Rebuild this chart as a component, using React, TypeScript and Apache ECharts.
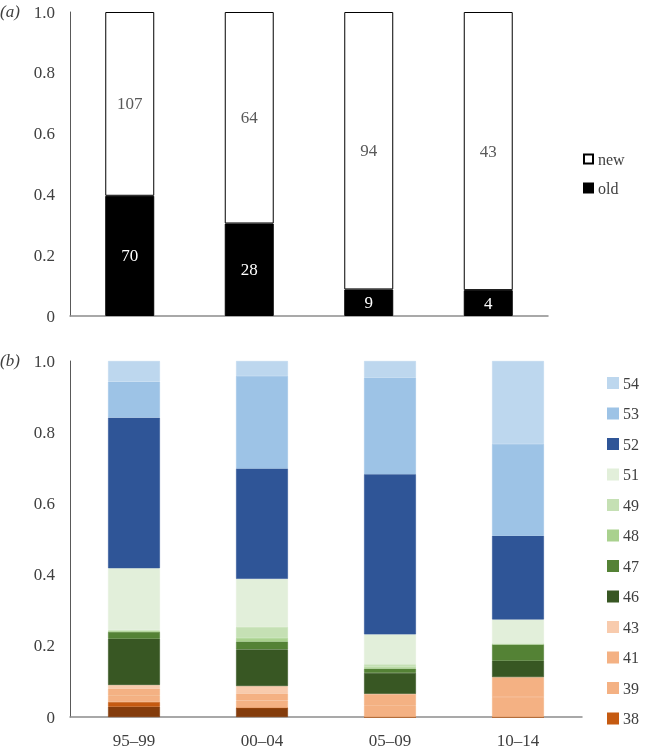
import React, { useEffect, useRef } from "react";
import * as echarts from "echarts";

const periods = ["95–99", "00–04", "05–09", "10–14"];
const yTicks = [0, 0.2, 0.4, 0.6, 0.8, 1.0];

// panel (a) counts
const oldCounts = [70, 28, 9, 4];
const newCounts = [107, 64, 94, 43];

// panel (b) proportions, bottom to top of stack
const s37 = [0.029, 0.026, 0, 0];
const s38 = [0.013, 0, 0, 0];
const s39 = [0.019, 0.02, 0.033, 0.056];
const s41 = [0.019, 0.02, 0.032, 0.056];
const s43 = [0.01, 0.021, 0, 0];
const s46 = [0.13, 0.103, 0.059, 0.046];
const s47 = [0.019, 0.022, 0.012, 0.047];
const s48 = [0.003, 0.01, 0.004, 0];
const s49 = [0.002, 0.031, 0.008, 0];
const s51 = [0.174, 0.135, 0.084, 0.069];
const s52 = [0.423, 0.31, 0.45, 0.235];
const s53 = [0.101, 0.26, 0.271, 0.258];
const s54 = [0.058, 0.042, 0.047, 0.233];

const bNames = ["37", "38", "39", "41", "43", "46", "47", "48", "49", "51", "52", "53", "54"];
const bData = [s37, s38, s39, s41, s43, s46, s47, s48, s49, s51, s52, s53, s54];
const bColors = [
  "#843C0C", "#C55A11", "#F4B183", "#F4B183", "#F8CBAD", "#385723", "#548235",
  "#A9D18E", "#C5E0B4", "#E2EFDA", "#2F5597", "#9DC3E6", "#BDD7EE",
];
const bLegend = ["54", "53", "52", "51", "49", "48", "47", "46", "43", "41", "39", "38"];

const FONT = "'Liberation Serif', 'Times New Roman', serif";
const TXT = "#404040";

export default function App() {
  const ref = useRef<HTMLDivElement>(null);
  useEffect(() => {
    if (!ref.current) return;
    const chart = echarts.init(ref.current, undefined, { renderer: "svg" });
    const totals = oldCounts.map((o, i) => o + newCounts[i]);
    const oldProp = oldCounts.map((o, i) => o / totals[i]);
    const newProp = newCounts.map((n, i) => n / totals[i]);

    const yAxisCommon = (gi: number) => ({
      type: "value",
      gridIndex: gi,
      min: 0,
      max: 1,
      interval: 0.2,
      axisLine: { show: true, lineStyle: { color: "#595959", width: 1 } },
      axisTick: { show: false },
      splitLine: { show: false },
      axisLabel: {
        color: TXT,
        fontFamily: FONT,
        fontSize: 17,
        margin: 15,
        formatter: (v: number) => (v === 0 ? "0" : yTicks.includes(v) ? v.toFixed(1) : ""),
      },
    });

    const bSeries = bNames.map((name, i) => ({
      name,
      type: "bar",
      stack: "b",
      xAxisIndex: 1,
      yAxisIndex: 1,
      barWidth: "40.5%",
      itemStyle: { color: bColors[i], borderColor: bColors[i], borderWidth: 0.6 },
      data: bData[i],
    }));

    chart.setOption({
      animation: false,
      textStyle: { fontFamily: FONT },
      grid: [
        { left: 70, top: 12, width: 478, height: 304 },
        { left: 70, top: 361, width: 512, height: 356 },
      ],
      xAxis: [
        {
          type: "category",
          gridIndex: 0,
          data: periods,
          axisLine: { lineStyle: { color: "#8c8c8c", width: 1.5 } },
          axisTick: { show: false },
          axisLabel: { show: false },
        },
        {
          type: "category",
          gridIndex: 1,
          data: periods,
          axisLine: { lineStyle: { color: "#8c8c8c", width: 1.5 } },
          axisTick: { show: false },
          axisLabel: { color: TXT, fontFamily: FONT, fontSize: 17, margin: 15 },
        },
      ],
      yAxis: [yAxisCommon(0), yAxisCommon(1)],
      legend: [
        {
          data: ["new", "old"],
          orient: "vertical",
          left: 578,
          top: 144,
          icon: "rect",
          itemWidth: 9,
          itemHeight: 9,
          itemGap: 9,
          textStyle: { fontFamily: FONT, fontSize: 16, color: TXT, lineHeight: 20 },
        },
        {
          data: bLegend,
          orient: "vertical",
          left: 602,
          top: 368,
          icon: "rect",
          itemWidth: 10,
          itemHeight: 10,
          itemGap: 10.5,
          textStyle: { fontFamily: FONT, fontSize: 16, color: TXT, lineHeight: 20 },
        },
      ],
      graphic: [
        {
          type: "text",
          left: 0,
          top: 3,
          style: { text: "(a)", fontFamily: FONT, fontStyle: "italic", fontSize: 17, fill: TXT },
        },
        {
          type: "text",
          left: 0,
          top: 352,
          style: { text: "(b)", fontFamily: FONT, fontStyle: "italic", fontSize: 17, fill: TXT },
        },
      ],
      series: [
        {
          name: "old",
          type: "bar",
          stack: "a",
          xAxisIndex: 0,
          yAxisIndex: 0,
          barWidth: "41%",
          itemStyle: { color: "#000000", borderColor: "#000000", borderWidth: 1 },
          label: {
            show: true,
            position: "inside",
            color: "#ffffff",
            fontFamily: FONT,
            fontSize: 17,
            formatter: (p: any) => String(oldCounts[p.dataIndex]),
          },
          data: oldProp,
        },
        {
          name: "new",
          type: "bar",
          stack: "a",
          xAxisIndex: 0,
          yAxisIndex: 0,
          barWidth: "41%",
          itemStyle: { color: "#ffffff", borderColor: "#000000", borderWidth: 1 },
          label: {
            show: true,
            position: "inside",
            color: "#595959",
            fontFamily: FONT,
            fontSize: 17,
            formatter: (p: any) => String(newCounts[p.dataIndex]),
          },
          data: newProp,
        },
        ...bSeries,
      ],
    });
    return () => chart.dispose();
  }, []);
  return (
    <div
      ref={ref}
      style={{ position: "fixed", left: 0, top: 0, width: 652, height: 750 }}
    />
  );
}
